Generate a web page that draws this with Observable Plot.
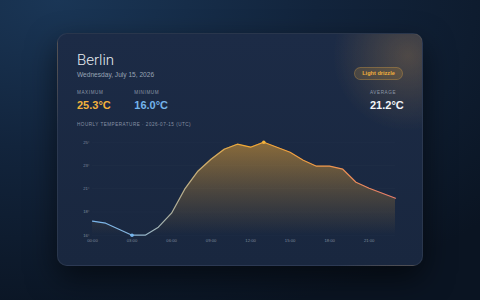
<!DOCTYPE html>
<html>
<head>
<meta charset="utf-8">
<script src="https://cdn.jsdelivr.net/npm/d3@7"></script>
<script src="https://cdn.jsdelivr.net/npm/@observablehq/plot@0.6"></script>
<style>
  html, body { margin: 0; padding: 0; }
  body {
    width: 480px; height: 300px; overflow: hidden; position: relative;
    font-family: "Liberation Sans", Arial, sans-serif;
    background: radial-gradient(ellipse 120% 110% at 12% 0%, #1a3656 0%, #12243c 45%, #0a1422 100%);
  }
  .card {
    position: absolute; left: 57px; top: 33px; width: 366px; height: 233px;
    border-radius: 10px; box-sizing: border-box;
    border: 1px solid rgba(255,255,255,0.07);
    background:
      radial-gradient(circle 75px at 350px 22px, rgba(225,160,75,0.26), rgba(225,160,75,0) 100%),
      linear-gradient(180deg, #1c2b46 0%, #19273f 100%);
    box-shadow: 0 12px 30px rgba(0,0,0,0.55);
  }
  .t { position: absolute; line-height: 1; white-space: nowrap; }
  #city { left: 77px; top: 53px; font-size: 15px; color: #e6ebf2; font-family: Roboto, "Liberation Sans", sans-serif; font-weight: 300; }
  #date { left: 77px; top: 71.6px; font-size: 6.6px; color: #98a3b4; }
  .lab { font-size: 4.6px; letter-spacing: 0.6px; color: #8c97a8; top: 90.6px; }
  .val { font-size: 11px; font-weight: bold; top: 99.8px; }
  #badge {
    position: absolute; left: 354px; top: 66.5px; width: 49px; height: 13.5px; box-sizing: border-box;
    border-radius: 7px; background: rgba(200,150,60,0.2); border: 1px solid rgba(230,170,70,0.3);
    color: #f0b03c; font-size: 5.6px; font-weight: bold; line-height: 11.5px; text-align: center;
  }
  #sub { left: 77px; top: 123.3px; font-size: 4.6px; letter-spacing: 0.5px; color: #8792a4; }
  #chart { position: absolute; left: 70px; top: 130px; }
</style>
</head>
<body>
<div class="card"></div>
<div class="t" id="city"></div>
<div class="t" id="date"></div>
<div id="badge"></div>
<div class="t lab" id="maxLab" style="left:77px"></div>
<div class="t val" id="maxVal" style="left:77px;color:#f2b23c"></div>
<div class="t lab" id="minLab" style="left:134.3px"></div>
<div class="t val" id="minVal" style="left:134.3px;color:#74b4ec"></div>
<div class="t lab" id="avgLab" style="left:370px"></div>
<div class="t val" id="avgVal" style="left:370px;color:#f2f5f9"></div>
<div class="t" id="sub"></div>
<div id="chart"></div>
<script>
// ---- data ----
const city = "Berlin";
const dateText = "Wednesday, July 15, 2026";
const condition = "Light drizzle";
const statLabels = ["MAXIMUM", "MINIMUM", "AVERAGE"];
const subtitle = "HOURLY TEMPERATURE · 2026-07-15 (UTC)";
const hours = [0,1,2,3,4,5,6,7,8,9,10,11,12,13,14,15,16,17,18,19,20,21,22,23];
const temps = [17.4,17.2,16.6,16.0,16.0,16.8,18.2,20.6,22.4,23.6,24.6,25.1,24.8,25.3,24.8,24.3,23.5,22.9,22.9,22.6,21.3,20.7,20.2,19.7];
const xTicks = [0,3,6,9,12,15,18,21];
const maxT = 25.3, minT = 16.0, avgT = 21.2;
const yTicks = d3.range(5).map(i => minT + i * (maxT - minT) / 4);

document.getElementById("city").textContent = city;
document.getElementById("date").textContent = dateText;
document.getElementById("badge").textContent = condition;
document.getElementById("maxLab").textContent = statLabels[0];
document.getElementById("minLab").textContent = statLabels[1];
document.getElementById("avgLab").textContent = statLabels[2];
document.getElementById("maxVal").textContent = maxT.toFixed(1) + "°C";
document.getElementById("minVal").textContent = minT.toFixed(1) + "°C";
document.getElementById("avgVal").textContent = avgT.toFixed(1) + "°C";
document.getElementById("sub").textContent = subtitle;

const data = hours.map((h, i) => ({h, t: temps[i]}));
const maxPt = [data[d3.maxIndex(temps)]];
const minPt = [data[d3.minIndex(temps)]];

const NS = "http://www.w3.org/2000/svg";
function el(name, attrs) {
  const e = document.createElementNS(NS, name);
  for (const k in attrs) e.setAttribute(k, attrs[k]);
  return e;
}
const defsMark = (index, scales) => {
  const g = el("g", {});
  const defs = el("defs", {});
  const x0 = scales.x(hours[0]), x1 = scales.x(hours[hours.length - 1]);
  const y0 = scales.y(maxT), y1 = scales.y(minT);
  const lg = el("linearGradient", {id: "lineGrad", gradientUnits: "userSpaceOnUse", x1: x0, x2: x1, y1: 0, y2: 0});
  [["0%", "#78b4ea"], ["12%", "#86b6e0"], ["50%", "#f0a834"], ["72%", "#ef9c45"], ["100%", "#e47a6c"]]
    .forEach(([o, c]) => lg.appendChild(el("stop", {offset: o, "stop-color": c})));
  const ag = el("linearGradient", {id: "areaGrad", gradientUnits: "userSpaceOnUse", x1: 0, x2: 0, y1: y0, y2: y1});
  [["0%", "#f0a834", 0.52], ["55%", "#f0a834", 0.22], ["100%", "#f0a834", 0.0]]
    .forEach(([o, c, op]) => ag.appendChild(el("stop", {offset: o, "stop-color": c, "stop-opacity": op})));
  defs.appendChild(lg); defs.appendChild(ag); g.appendChild(defs);
  return g;
};

const plot = Plot.plot({
  width: 340, height: 118,
  marginLeft: 22, marginRight: 15, marginTop: 11.7, marginBottom: 13.3,
  style: {background: "transparent", fontFamily: "Liberation Sans, Arial, sans-serif", fontSize: "4.2px", color: "#7d899c"},
  x: {domain: [0, 23]},
  y: {domain: [minT, maxT]},
  marks: [
    defsMark,
    Plot.ruleY(yTicks, {stroke: "#ffffff", strokeOpacity: 0.035, strokeWidth: 0.6}),
    Plot.areaY(data, {x: "h", y1: minT, y2: "t", fill: "url(#areaGrad)"}),
    Plot.line(data, {x: "h", y: "t", stroke: "url(#lineGrad)", strokeWidth: 1.2}),
    Plot.dot(minPt, {x: "h", y: "t", r: 1.8, fill: "#74b4ec"}),
    Plot.dot(maxPt, {x: "h", y: "t", r: 1.8, fill: "#f2b23c"}),
    Plot.axisY(yTicks, {tickSize: 0, tickPadding: 3, tickFormat: d => Math.round(d) + "°", label: null, fill: "#7d899c"}),
    Plot.axisX(xTicks, {tickSize: 0, tickPadding: 4, tickFormat: d => String(d).padStart(2, "0") + ":00", label: null, fill: "#7d899c"})
  ]
});
document.getElementById("chart").appendChild(plot);
</script>
</body>
</html>
